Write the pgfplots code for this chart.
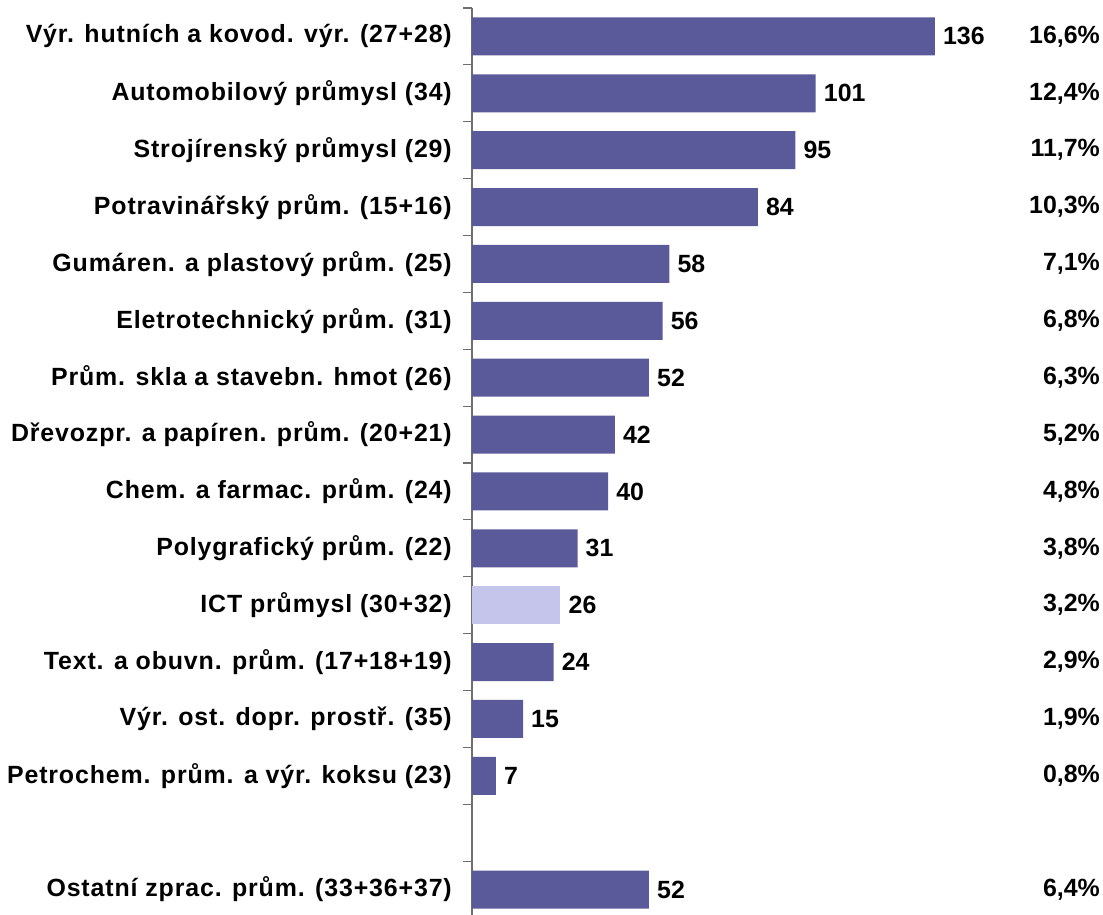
\documentclass[border=0pt]{standalone}
\usepackage{pgfplots}
\pgfplotsset{compat=1.18}
\usepackage{pgfplotstable}
\usepackage{fontspec}
\setmainfont{Liberation Sans}
\newfontfamily\lblfont[LetterSpace=3.5]{Liberation Sans}
\definecolor{barblue}{RGB}{90,89,153}
\definecolor{barlight}{RGB}{197,196,235}
\definecolor{axgray}{RGB}{110,110,110}

\pgfplotstableread{
idx val pct
0 136 16.6
1 101 12.4
2 95 11.7
3 84 10.3
4 58 7.1
5 56 6.8
6 52 6.3
7 42 5.2
8 40 4.8
9 31 3.8
11 24 2.9
12 15 1.9
13 7 0.8
15 52 6.4
}\maindata
\pgfplotstableread{
idx val pct
10 26 3.2
}\ictdata
\pgfplotstableread{
idx pct
0 16.6
1 12.4
2 11.7
3 10.3
4 7.1
5 6.8
6 6.3
7 5.2
8 4.8
9 3.8
10 3.2
11 2.9
12 1.9
13 0.8
15 6.4
}\pctdata

\begin{document}
\begin{tikzpicture}
\begin{axis}[
  /pgf/number format/assume math mode=true,
  scale only axis,
  width=631bp, height=910bp,
  xmin=0, xmax=185.4,
  ymin=-0.5, ymax=15.5,
  y dir=reverse,
  axis x line=none,
  axis y line*=left,
  y axis line style={draw=axgray, line width=1.2bp},
  ytick={0,...,15},
  yticklabels={
    Výr. hutních a kovod. výr. (27+28),
    Automobilový průmysl (34),
    Strojírenský průmysl (29),
    Potravinářský prům. (15+16),
    Gumáren. a plastový prům. (25),
    Eletrotechnický prům. (31),
    Prům. skla a stavebn. hmot (26),
    Dřevozpr. a papíren. prům. (20+21),
    Chem. a farmac. prům. (24),
    Polygrafický prům. (22),
    ICT průmysl (30+32),
    Text. a obuvn. prům. (17+18+19),
    Výr. ost. dopr. prostř. (35),
    Petrochem. prům. a výr. koksu (23),
    {},
    Ostatní zprac. prům. (33+36+37)},
  major tick length=0pt,
  minor ytick={-0.5,0.5,...,15.5},
  minor tick length=9bp,
  tick align=outside,
  ytick pos=left,
  tick style={draw=axgray, line width=1.2bp},
  yticklabel style={anchor=east, inner sep=0pt, xshift=-20bp,
     font=\lblfont\bfseries\fontsize{25}{30}\selectfont},
  clip=false,
]
\addplot[xbar, bar width=38bp, bar shift=0pt, fill=barblue, draw=none,
  nodes near coords,
  nodes near coords style={anchor=west, inner sep=0pt, xshift=8bp,
     font=\bfseries\fontsize{25}{30}\selectfont, text=black}]
  table[x=val, y=idx] {\maindata};
\addplot[xbar, bar width=38bp, bar shift=0pt, fill=barlight, draw=none,
  nodes near coords,
  nodes near coords style={anchor=west, inner sep=0pt, xshift=8bp,
     font=\bfseries\fontsize{25}{30}\selectfont, text=black}]
  table[x=val, y=idx] {\ictdata};
\addplot[draw=none, mark=none,
  nodes near coords,
  point meta=explicit,
  nodes near coords={\pgfmathprintnumber[fixed, fixed zerofill, precision=1, use comma, assume math mode=true]{\pgfplotspointmeta}\%},
  nodes near coords style={anchor=east, inner sep=0pt, xshift=-3bp,
     font=\bfseries\fontsize{25}{30}\selectfont, text=black}]
  table[x expr=185.4, y=idx, meta=pct] {\pctdata};
\end{axis}
\pgfresetboundingbox
\path[use as bounding box] ([xshift=-472bp,yshift=8bp]current axis.north west) rectangle ([xshift=631bp,yshift=-907bp]current axis.north west);
\end{tikzpicture}
\end{document}
